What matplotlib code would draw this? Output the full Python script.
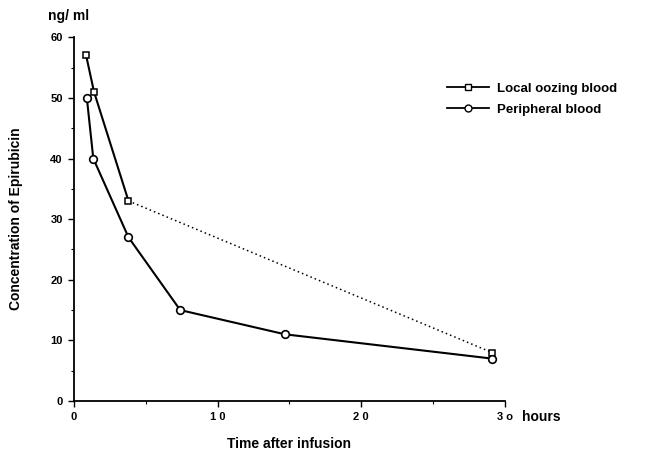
import numpy as np
import matplotlib
matplotlib.use("Agg")
import matplotlib.pyplot as plt
from matplotlib.lines import Line2D

plt.rcParams['font.family'] = ['Liberation Sans', 'DejaVu Sans']
plt.rcParams['font.weight'] = 'bold'

# values (x in axis units, y in ng/ml)
local_x = [0.85, 1.4, 3.8, 29.1]
local_y = [57, 51, 33, 8]
periph_x = [0.9, 1.35, 3.8, 7.4, 14.7, 29.1]
periph_y = [50, 40, 27, 15, 11, 7]

x_ticks = [0, 10, 20, 30]
x_tick_labels = ['0', '1 0', '2 0', '3 o']
y_ticks = [0, 10, 20, 30, 40, 50, 60]

fig = plt.figure(figsize=(6.54, 4.57), dpi=100)
ax = fig.add_axes([0.113, 0.1225, 0.659, 0.796])

# local oozing blood: solid for early points, dotted to the last one
ax.plot(local_x[:3], local_y[:3], color='black', lw=1.5, zorder=2)
ax.plot(local_x[2:], local_y[2:], color='black', lw=1.1, ls=(0, (1, 2)), zorder=2)
ax.plot(local_x, local_y, ls='none', marker='s', ms=4.5, mfc='white',
        mec='black', mew=1.1, zorder=3)

# peripheral blood
ax.plot(periph_x, periph_y, color='black', lw=1.5, marker='o', ms=5.5,
        mfc='white', mec='black', mew=1.2, zorder=3)

ax.set_xlim(0, 30)
ax.set_ylim(0, 60)
for s in ['top', 'right']:
    ax.spines[s].set_visible(False)
ax.spines['left'].set_linewidth(1.3)
ax.spines['bottom'].set_linewidth(1.3)

ax.set_xticks(x_ticks)
ax.set_xticklabels(x_tick_labels)
ax.set_xticks([5, 15, 25], minor=True)
ax.set_yticks(y_ticks)
ax.set_yticks([5, 15, 25, 35, 45, 55], minor=True)
ax.tick_params(axis='both', which='major', direction='out', length=4, width=1.0,
               labelsize=8, pad=4)
ax.tick_params(axis='both', which='minor', direction='out', length=2.5, width=0.8)
for lab in ax.get_xticklabels() + ax.get_yticklabels():
    lab.set_fontweight('bold')

ax.text(1.04, -0.025, 'hours', transform=ax.transAxes, fontsize=10,
        fontweight='bold', ha='left', va='top')
ax.text(-0.06, 1.04, 'ng/ ml', transform=ax.transAxes, fontsize=10,
        fontweight='bold', ha='left', va='bottom')

ax.set_xlabel('Time after infusion', fontsize=10, fontweight='bold', labelpad=11)
ax.set_ylabel('Concentration of Epirubicin', fontsize=10, fontweight='bold', labelpad=20)

handles = [
    Line2D([], [], color='black', lw=1.3, marker='s', ms=4, mfc='white', mec='black'),
    Line2D([], [], color='black', lw=1.3, marker='o', ms=5, mfc='white', mec='black'),
]
fig.legend(handles, ['Local oozing blood', 'Peripheral blood'],
           loc='upper left', bbox_to_anchor=(0.665, 0.845), frameon=False,
           handlelength=3.2, handletextpad=0.6, labelspacing=0.65,
           prop={'weight': 'bold', 'size': 9.5})

fig.savefig('out.png', dpi=100)
